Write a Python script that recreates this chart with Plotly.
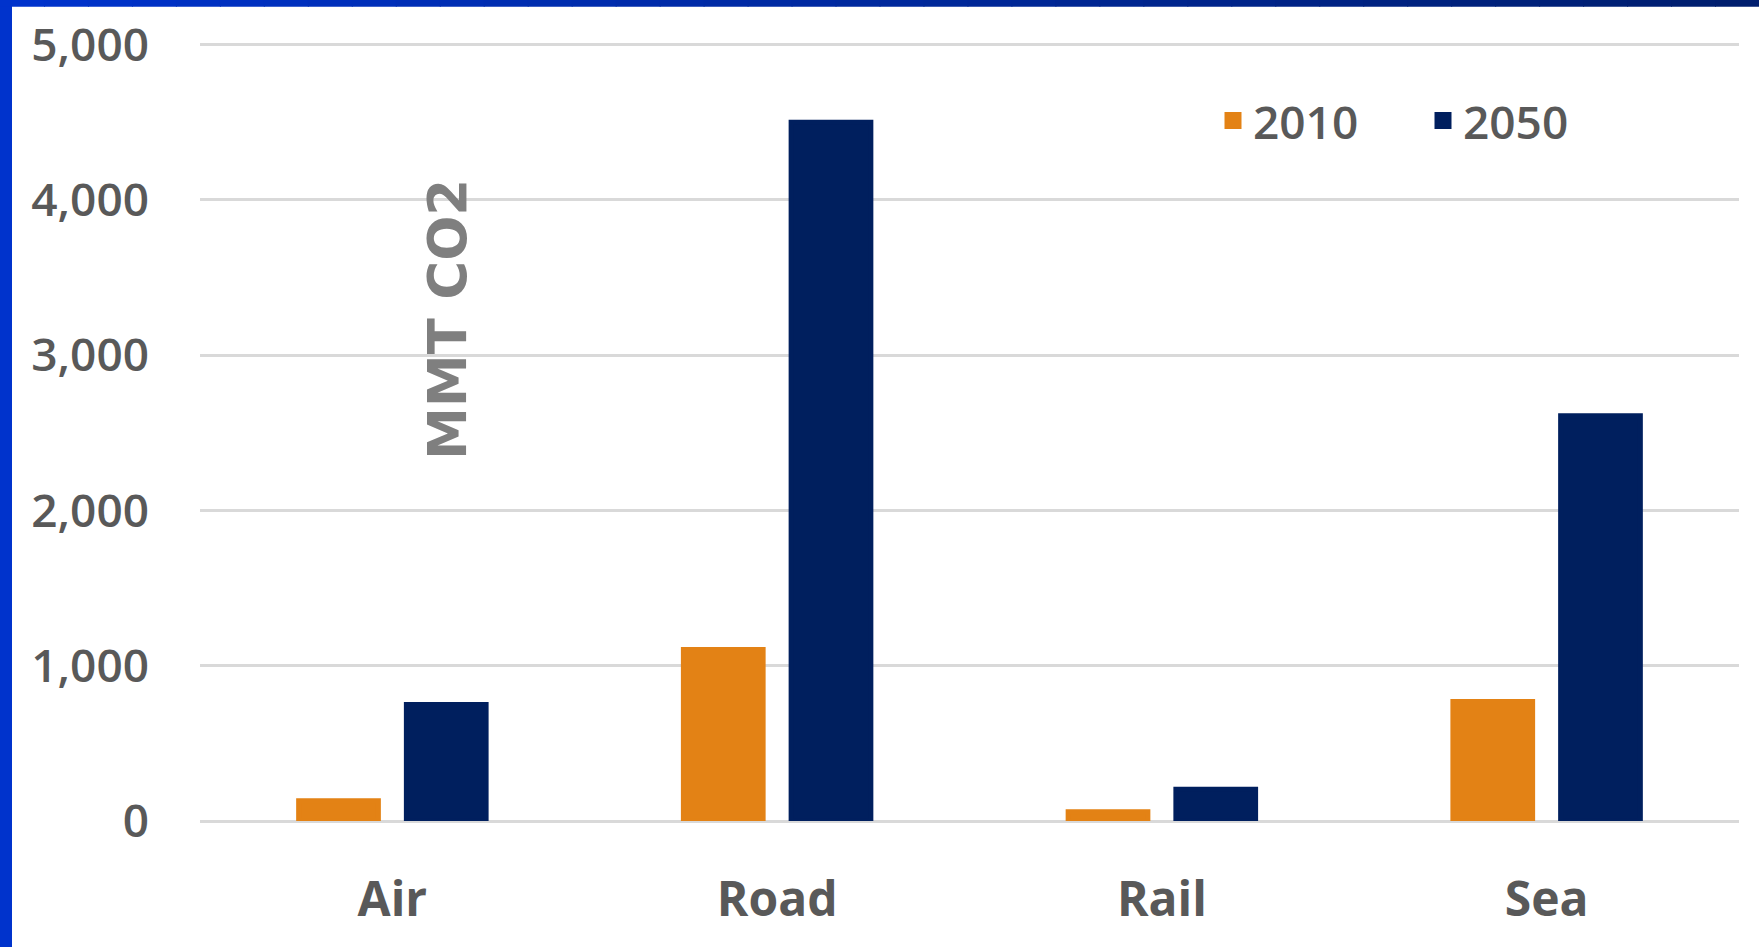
import plotly.graph_objects as go

categories = ["Air", "Road", "Rail", "Sea"]
series_names = ["2010", "2050"]
values_2010 = [130, 1105, 60, 770]
values_2050 = [750, 4500, 205, 2610]
y_ticks = [0, 1000, 2000, 3000, 4000, 5000]
y_title = "MMT CO2"

ORANGE = "#E38215"
NAVY = "#001F5E"

W, H = 1759, 947
YMAX = 5030
SCALE = 776 / 5000.0
L, R, B = 200, 20, 126
T = 45 - (YMAX - 5000) * SCALE
PW, PH = W - L - R, H - T - B


def px_x(px):
    return (px - L) / PW


def px_y(py):
    return (H - B - py) / PH


fig = go.Figure()
fig.add_trace(go.Bar(x=categories, y=values_2010, name=series_names[0],
                     marker=dict(color=ORANGE, line=dict(width=5, color=ORANGE))))
fig.add_trace(go.Bar(x=categories, y=values_2050, name=series_names[1],
                     marker=dict(color=NAVY, line=dict(width=5, color=NAVY))))

shapes = []
# left border
shapes.append(dict(type="rect", xref="paper", yref="paper", layer="above",
                   x0=px_x(0), x1=px_x(12), y0=px_y(H), y1=px_y(0),
                   fillcolor="#0033CC", line=dict(width=0)))
# top border with gradient
n = 40
c0 = (0x00, 0x33, 0xCC)
c1 = (0x00, 0x1E, 0x6E)
for i in range(n):
    t = i / (n - 1)
    col = "rgb(%d,%d,%d)" % tuple(round(a + (b - a) * t) for a, b in zip(c0, c1))
    shapes.append(dict(type="rect", xref="paper", yref="paper", layer="above",
                       x0=px_x(W * i / n), x1=px_x(W * (i + 1) / n + 1),
                       y0=px_y(7), y1=px_y(0),
                       fillcolor=col, line=dict(width=0)))

fig.update_layout(
    width=W, height=H,
    margin=dict(l=L, r=R, t=T, b=B, pad=0),
    paper_bgcolor="white", plot_bgcolor="white",
    barmode="group", bargap=0.44, bargroupgap=0.26,
    showlegend=True,
    legend=dict(orientation="h", x=px_x(1213), xanchor="left",
                y=px_y(121), yanchor="middle",
                font=dict(family="Open Sans", size=46, color="#595959", weight=600),
                bgcolor="rgba(0,0,0,0)", itemwidth=30, traceorder="normal",
                entrywidth=165, entrywidthmode="pixels"),
    xaxis=dict(showline=False, showgrid=False, zeroline=False, ticks="",
               tickfont=dict(family="Open Sans", size=48, color="#595959", weight=700),
               ticklabelstandoff=46),
    yaxis=dict(range=[0, YMAX], tickvals=y_ticks, tickformat=",",
               showgrid=True, gridcolor="#D9D9D9", gridwidth=3,
               zeroline=True, zerolinecolor="#D9D9D9", zerolinewidth=3,
               showline=False, ticks="",
               tickfont=dict(family="Open Sans", size=46, color="#595959", weight=600),
               ticklabelstandoff=50),
    shapes=shapes,
    annotations=[dict(text=y_title, xref="paper", yref="paper",
                      x=px_x(448), y=px_y(320), xanchor="center", yanchor="middle",
                      textangle=-90, showarrow=False,
                      font=dict(family="DejaVu Sans", size=53, color="#7F7F7F",
                                weight="bold"))],
)

fig.write_html("out.html",
               config={"displayModeBar": False},
               post_script="document.body.style.margin='0';document.body.style.overflow='hidden';")
